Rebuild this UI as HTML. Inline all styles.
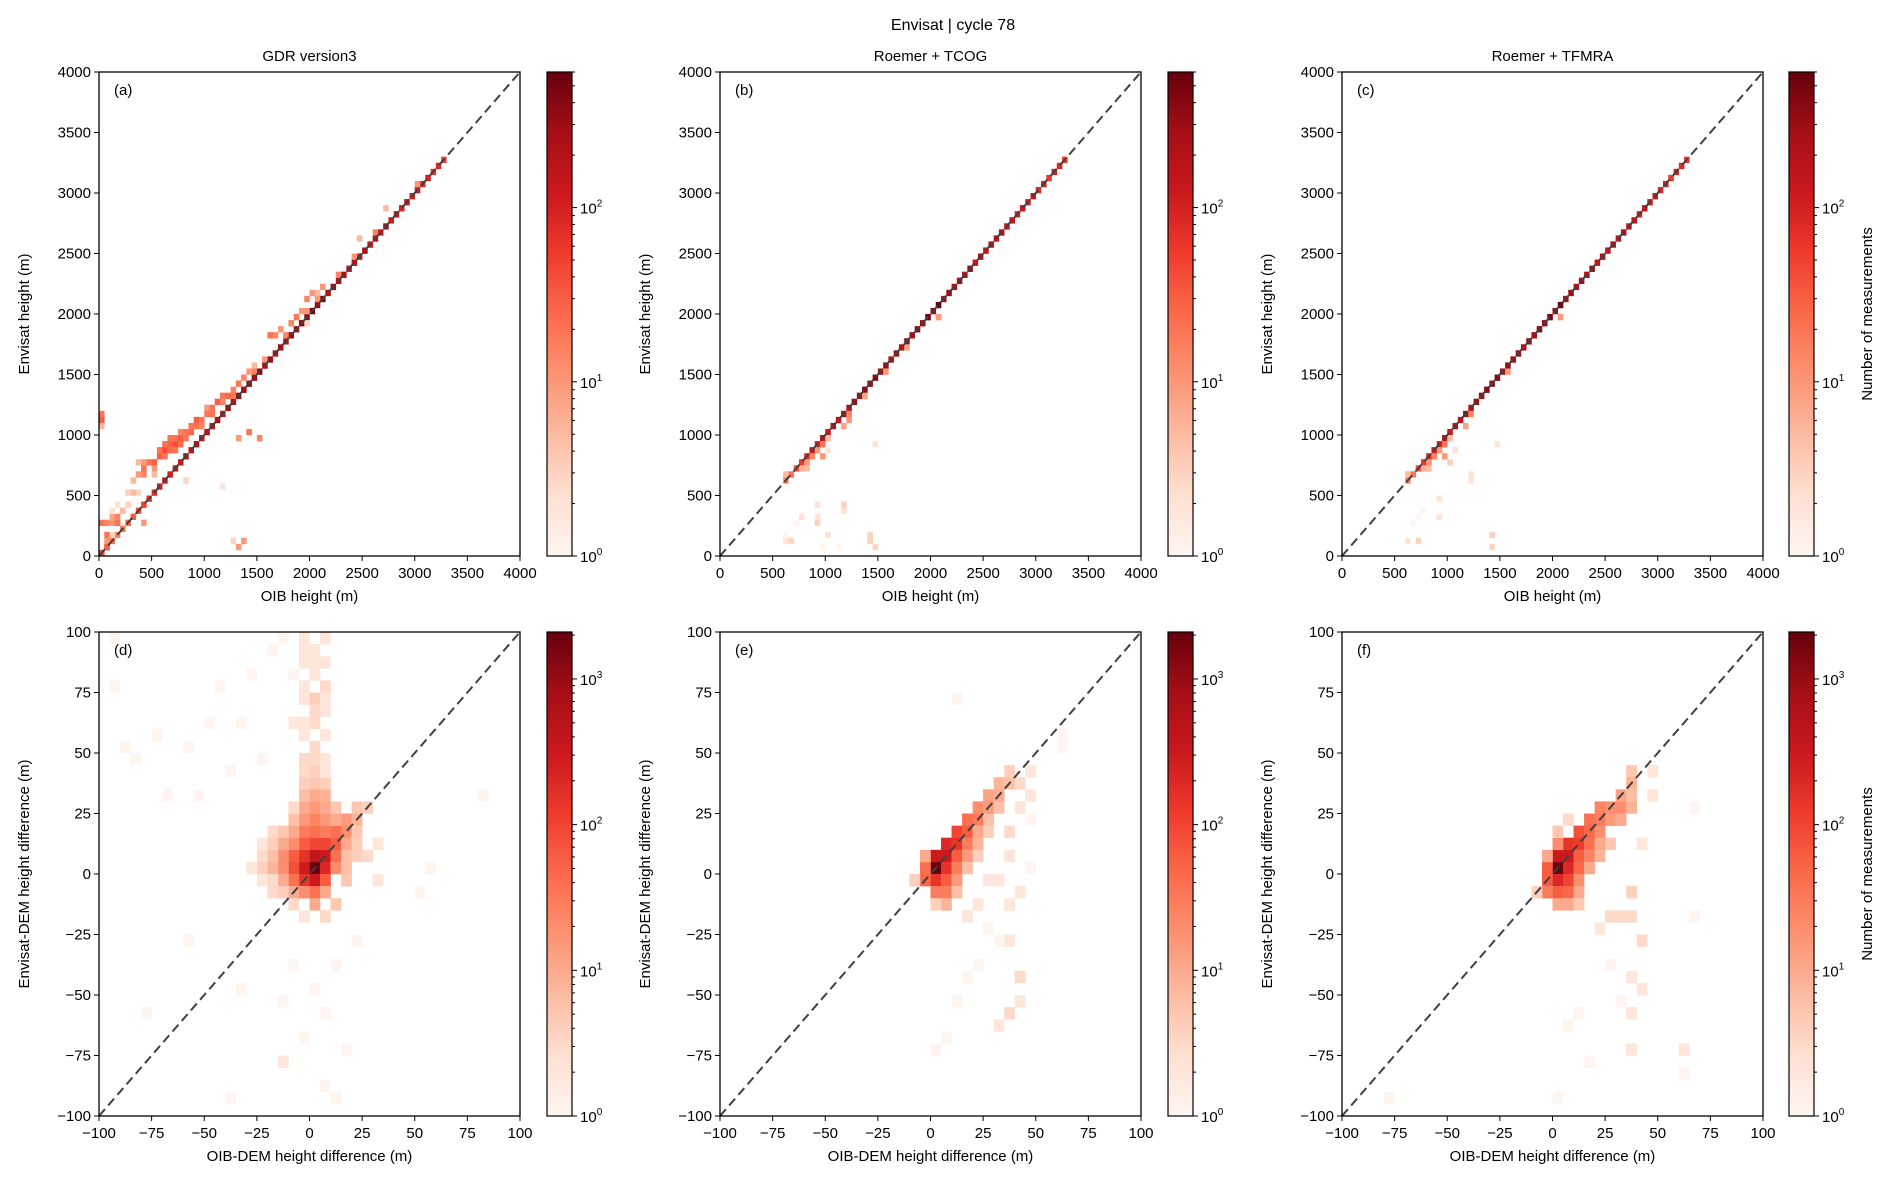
<!DOCTYPE html>
<html><head><meta charset="utf-8">
<style>
html,body{margin:0;padding:0;background:#fff;}
svg{display:block;font-family:"Liberation Sans","DejaVu Sans",sans-serif;}
</style></head>
<body>
<svg id="fig" width="1892" height="1186" viewBox="0 0 1892 1186" xmlns="http://www.w3.org/2000/svg">
<defs>
<linearGradient id="reds" x1="0" y1="1" x2="0" y2="0">
<stop offset="0" stop-color="#fff5f0"/><stop offset="0.125" stop-color="#fee0d2"/><stop offset="0.25" stop-color="#fcbba1"/><stop offset="0.375" stop-color="#fc9272"/><stop offset="0.5" stop-color="#fb6a4a"/><stop offset="0.625" stop-color="#ef3b2c"/><stop offset="0.75" stop-color="#cb181d"/><stop offset="0.875" stop-color="#a50f15"/><stop offset="1" stop-color="#67000d"/>
</linearGradient>
</defs>
<text x="953" y="30" font-size="16" text-anchor="middle">Envisat | cycle 78</text>
</svg>
<script>
// ---- data ----
const topTicks = [0,500,1000,1500,2000,2500,3000,3500,4000];
const botTicks = [-100,-75,-50,-25,0,25,50,75,100];
const panelTitles = ["GDR version3","Roemer + TCOG","Roemer + TFMRA","","",""];
const panelLetters = ["(a)","(b)","(c)","(d)","(e)","(f)"];
const topMax = 600, botMax = 2100;
// diagonal counts for x = i*50 (top row)
const diagA = [40,30,20,15,20,25,30,40,50,60,80,100,120,100,150,120,200,150,200,150,200,180,220,150,250,200,300,250,350,300,400,250,300,200,250,200,300,250,400,300,500,300,450,200,300,200,250,150,200,150,250,120,200,150,200,120,150,100,150,100,120,80,100,60,80,50];
const diagB = [0,0,0,0,0,0,0,0,0,0,0,0,15,20,40,60,80,120,100,150,120,200,150,250,200,300,250,350,300,400,250,300,200,300,200,300,250,350,300,500,300,600,250,300,200,250,200,300,150,200,150,200,150,200,120,150,100,150,100,120,80,100,60,100,80,60];
const diagC = [0,0,0,0,0,0,0,0,0,0,0,0,15,20,40,60,80,120,100,150,120,200,150,250,200,300,250,350,300,400,250,300,250,300,200,300,250,350,300,500,300,550,250,300,200,250,200,300,150,200,150,200,150,200,120,150,100,150,100,120,80,100,60,100,80,60];
const cellsA = [[0,1100,30],[0,1150,20],[0,1050,5],[50,50,30],[0,0,40],[50,100,10],[50,150,20],[100,150,3],[0,250,20],[50,250,15],[100,250,10],[150,250,20],[100,300,8],[150,300,15],[200,350,5],[250,400,3],[150,400,2],[300,600,5],[350,650,10],[400,650,15],[400,700,20],[450,750,20],[500,750,30],[500,700,10],[350,750,5],[400,750,10],[550,800,30],[550,850,20],[600,850,40],[600,900,20],[650,900,30],[700,900,40],[650,950,20],[700,950,20],[750,950,30],[750,1000,15],[800,1000,20],[850,1050,20],[900,1100,30],[950,1100,20],[1000,1150,20],[1000,1200,10],[1050,1200,20],[1100,1250,30],[1150,1300,20],[1200,1300,25],[1250,1350,15],[1300,1400,20],[1350,1450,15],[1400,1500,10],[1450,1550,5],[1600,1800,20],[1650,1800,15],[1700,1850,10],[1800,1900,15],[1850,1950,20],[1900,2000,10],[1950,2100,15],[2000,2150,10],[2050,2150,5],[2100,2200,10],[2250,2300,15],[2400,2450,10],[2450,2600,5],[2600,2650,15],[2700,2850,5],[3000,3050,10],[1400,1000,20],[1500,950,15],[1300,950,10],[1350,100,10],[1300,50,10],[1250,100,3],[400,250,10],[350,500,3],[1150,550,2],[500,650,5],[800,600,3],[250,500,3],[300,500,5],[1950,1900,3],[100,350,2],[600,800,20],[650,850,25],[700,850,20],[750,900,25],[800,950,20],[850,1000,25],[900,1050,20],[950,1050,15],[1050,1150,20],[1150,1250,15],[1250,1300,20],[1450,1500,15],[1550,1600,10],[1750,1800,15],[1950,2000,10],[2050,2100,10]];
const cellsB = [[600,100,2],[650,100,3],[600,150,1],[700,250,1],[750,300,2],[900,400,2],[900,250,3],[900,300,2],[1000,150,2],[950,50,1],[1100,50,1],[1150,400,3],[1150,350,2],[1400,150,3],[1400,100,3],[1450,50,3],[1450,900,2],[1000,950,5],[900,850,10],[850,800,15],[800,750,10],[750,700,6],[800,700,5],[950,900,20],[950,800,10],[1000,850,2],[1200,1100,10],[1150,1050,8],[1550,1500,10],[1750,1700,8],[2050,1950,10],[1350,1300,8],[1200,1150,15],[600,650,5]];
const cellsC = [[600,100,2],[700,100,3],[650,250,1],[750,350,1],[900,450,2],[900,300,2],[700,300,1],[1050,850,2],[1400,150,3],[1400,50,3],[1450,900,2],[1000,950,5],[900,850,10],[850,800,15],[800,750,10],[750,700,6],[800,700,5],[950,900,20],[950,800,10],[1200,1150,15],[1150,1050,8],[1550,1500,10],[2050,1950,10],[1200,650,2],[1200,600,2],[1000,750,3],[600,650,5]];
const cellsD = [[0,0,2000],[-5,0,300],[0,5,400],[0,-5,300],[5,5,300],[5,0,200],[-5,-5,150],[-5,5,150],[5,10,100],[0,10,100],[-10,0,80],[-10,5,60],[10,10,60],[10,15,40],[-5,10,60],[0,15,40],[-10,-5,40],[0,-10,40],[5,-5,60],[-15,0,20],[-15,5,20],[15,15,20],[15,20,15],[10,5,40],[-5,15,30],[0,20,25],[-5,20,15],[0,25,15],[-5,25,10],[5,20,15],[5,25,10],[0,30,10],[-10,10,20],[-10,15,10],[-15,10,10],[-20,0,8],[-20,5,6],[-15,-5,10],[-10,-10,10],[-5,-10,20],[0,-15,10],[5,-10,10],[10,0,20],[20,20,8],[20,25,5],[25,25,4],[15,10,10],[-20,-10,3],[-25,0,4],[-20,10,4],[15,5,6],[20,15,5],[0,35,5],[0,40,4],[-5,45,3],[0,50,3],[5,55,2],[0,60,3],[0,70,4],[5,75,3],[0,80,2],[-5,85,2],[0,90,2],[5,95,2],[-5,95,2],[-10,60,2],[-5,70,2],[5,65,2],[-15,95,1],[-10,80,1],[-20,90,1],[-90,50,1],[-85,45,1],[-95,75,1],[-75,55,1],[-60,50,1],[-50,60,1],[-45,75,1],[-40,40,1],[-70,30,1],[-55,30,1],[-35,60,1],[-30,80,1],[-25,45,1],[-95,95,1],[-10,-40,1],[-15,-55,1],[-15,-80,2],[-5,-70,1],[0,-50,1],[5,-60,1],[10,-40,1],[5,-90,1],[-35,-50,1],[-60,-30,1],[-80,-60,1],[-40,-95,1],[30,-5,2],[20,-30,1],[25,5,3],[30,10,2],[50,-10,1],[55,0,1],[80,30,1],[15,-75,1],[10,-95,1],[-15,15,5],[-15,-10,4],[10,-15,5],[-20,15,3],[15,-5,5],[5,15,30],[10,20,10],[5,30,8],[-5,30,6],[5,35,4],[-5,35,4],[-10,20,6],[10,25,5],[-25,5,3],[-25,-5,2],[20,5,4],[-10,25,3],[0,45,3],[5,45,2],[-5,55,2],[0,65,3],[5,85,2],[-5,75,2],[-20,-5,3],[-10,-15,3],[5,-20,3],[-5,-20,2],[15,0,6],[20,10,4],[-25,10,2],[-30,0,2],[-5,40,3],[5,40,2],[-5,60,2],[5,70,2],[-5,90,2],[0,85,2]];
const cellsE = [[0,0,2000],[0,5,300],[5,5,300],[5,10,200],[10,10,150],[10,15,100],[15,15,60],[15,20,40],[20,20,30],[20,25,20],[25,25,15],[25,30,12],[30,30,10],[30,35,8],[35,35,6],[35,40,4],[0,-5,150],[5,0,150],[-5,-5,50],[-5,0,40],[5,-5,60],[10,5,60],[10,0,30],[15,10,30],[0,-10,30],[5,-10,30],[10,-5,15],[15,5,15],[20,15,10],[20,10,8],[25,20,6],[30,25,6],[25,15,4],[10,-10,6],[5,-15,8],[0,-15,4],[15,0,6],[20,5,4],[-5,5,10],[40,35,3],[40,25,2],[35,15,3],[35,5,2],[30,-5,2],[35,-15,2],[40,-10,2],[35,-30,2],[40,-45,3],[35,-60,3],[30,-65,2],[40,-55,2],[20,-40,1],[15,-45,1],[10,-55,1],[0,-75,1],[5,-70,1],[60,50,1],[60,55,1],[45,40,2],[45,30,2],[45,20,1],[25,-25,1],[15,-20,2],[20,-15,2],[25,-5,2],[-10,-5,4],[10,70,1],[30,-30,1],[45,0,1]];
const cellsF = [[0,0,2000],[0,5,300],[5,5,300],[5,10,150],[10,10,120],[10,15,80],[15,15,50],[15,20,40],[20,20,30],[20,25,25],[25,25,20],[30,25,20],[30,30,12],[35,35,8],[35,40,5],[0,-5,200],[-5,-5,60],[-5,0,60],[5,0,200],[5,-5,100],[0,-10,60],[5,-10,50],[-5,-10,30],[10,5,60],[10,0,50],[10,-5,20],[15,10,40],[15,5,25],[20,15,20],[25,20,15],[30,20,10],[35,25,8],[35,30,6],[10,-10,10],[5,-15,10],[0,-15,10],[10,-15,5],[15,0,10],[20,5,8],[20,10,10],[25,10,5],[-10,-10,4],[-5,5,10],[0,10,20],[0,15,5],[5,20,3],[25,-20,3],[20,-25,2],[30,-20,3],[35,-10,4],[35,-20,3],[40,-30,3],[35,-45,2],[40,-50,2],[35,-60,2],[30,-55,1],[35,-75,2],[25,-40,1],[10,-60,1],[5,-65,1],[60,-75,2],[60,-85,1],[65,25,1],[65,-20,1],[45,40,2],[45,30,2],[-80,-95,1],[0,-95,1],[15,-80,1],[40,10,2]];
</script>
<script>
const NS="http://www.w3.org/2000/svg";
const svg=document.getElementById('fig');
const X0=[99,720,1342], Y0=[72,632], W=421, H=484, CBX=[547,1168,1789], CBW=25;
const stops=[[255,245,240],[254,224,210],[252,187,161],[252,146,114],[251,106,74],[239,59,44],[203,24,29],[165,15,21],[103,0,13]];
function cmap(t){t=Math.max(0,Math.min(1,t));const f=t*8,i=Math.min(7,Math.floor(f)),r=f-i;const a=stops[i],b=stops[i+1];
return 'rgb('+a.map((v,k)=>Math.round(v+(b[k]-v)*r)).join(',')+')';}
function mk(tag,attrs,parent){const e=document.createElementNS(NS,tag);for(const k in attrs)e.setAttribute(k,attrs[k]);(parent||svg).appendChild(e);return e;}
function txt(x,y,s,size,anchor,parent){const t=mk('text',{x:x,y:y,'font-size':size,'text-anchor':anchor||'middle',fill:'#000'},parent);t.textContent=s;return t;}

for(let p=0;p<6;p++){
  const col=p%3,row=Math.floor(p/3);
  const x0=X0[col],y0=Y0[row];
  const top=row===0;
  const lo=top?0:-100, hi=top?4000:100, bin=top?50:5, vmax=top?topMax:botMax;
  const sx=v=>x0+(v-lo)/(hi-lo)*W;
  const sy=v=>y0+H-(v-lo)/(hi-lo)*H;
  const g=mk('g',{});
  
  
  let cells=[];
  if(top){const d=[diagA,diagB,diagC][col];d.forEach((c,i)=>{if(c>0)cells.push([i*50,i*50,c]);});cells=cells.concat([cellsA,cellsB,cellsC][col]);}
  else cells=[cellsD,cellsE,cellsF][col];
  const cg=mk('g',{},g);
  
  
  cells.forEach(c=>{
    const r=mk('rect',{x:sx(c[0]),y:sy(c[1]+bin),width:sx(c[0]+bin)-sx(c[0])+0.3,height:sy(c[1])-sy(c[1]+bin)+0.3,fill:cmap(Math.log10(c[2])/Math.log10(vmax))},cg);
    
    
  });
  const dl=mk('line',{x1:sx(lo),y1:sy(lo),x2:sx(hi),y2:sy(hi),stroke:'#404040','stroke-width':2,'stroke-dasharray':'9,5'},g);
  
  
  const fr=mk('rect',{x:x0,y:y0,width:W,height:H,fill:'none',stroke:'#000','stroke-width':1.3},g);
  
  
  const ticks=top?topTicks:botTicks;
  ticks.forEach(t=>{
    mk('line',{x1:sx(t),y1:y0+H,x2:sx(t),y2:y0+H+5,stroke:'#000','stroke-width':1},g);
    const lx=txt(sx(t),y0+H+22,String(t).replace('-','\u2212'),15,'middle',g);
    
    
    mk('line',{x1:x0-5,y1:sy(t),x2:x0,y2:sy(t),stroke:'#000','stroke-width':1},g);
    const ly=txt(x0-8,sy(t)+5,String(t).replace('-','\u2212'),15,'end',g);
    
    
  });
  const xl=txt(x0+W/2,y0+H+45,top?'OIB height (m)':'OIB-DEM height difference (m)',15,'middle',g);
  
  
  const yx=x0-70, yy=y0+H/2;
  const yl=mk('text',{x:yx,y:yy,'font-size':15,'text-anchor':'middle',transform:'rotate(-90 '+yx+' '+yy+')'},g);
  yl.textContent=top?'Envisat height (m)':'Envisat-DEM height difference (m)';
  
  
  const lt=txt(x0+15,y0+23,panelLetters[p],15,'start',g);
  
  
  if(panelTitles[p]){const tt=txt(x0+W/2,y0-11,panelTitles[p],15,'middle',g);
    
    }
  const cx=CBX[col];
  const cb=mk('g',{},g);
  
  
  mk('rect',{x:cx,y:y0,width:CBW,height:H,fill:'url(#reds)',stroke:'#000','stroke-width':1.2},cb);
  const dec=Math.log10(vmax);
  const cyv=v=>y0+H-Math.log10(v)/dec*H;
  for(let e=0;e<=3;e++){for(let m=1;m<10;m++){const v=m*Math.pow(10,e);if(v>vmax)break;
    const yy2=cyv(v);mk('line',{x1:cx+CBW,y1:yy2,x2:cx+CBW+(m===1?5:3),y2:yy2,stroke:'#000','stroke-width':1},cb);
    if(m===1){const t=mk('text',{x:cx+CBW+8,y:yy2+6,'font-size':15},cb);t.textContent='10';
      const s=mk('tspan',{dy:-7,'font-size':10},t);s.textContent=String(e);
      
      }}}
  if(col===2){const lx2=cx+CBW+58,ly2=y0+H/2;
    const cl=mk('text',{x:lx2,y:ly2,'font-size':15,'text-anchor':'middle',transform:'rotate(-90 '+lx2+' '+ly2+')'},cb);
    cl.textContent='Number of measurements';
    
    }
}
</script>
</body></html>
